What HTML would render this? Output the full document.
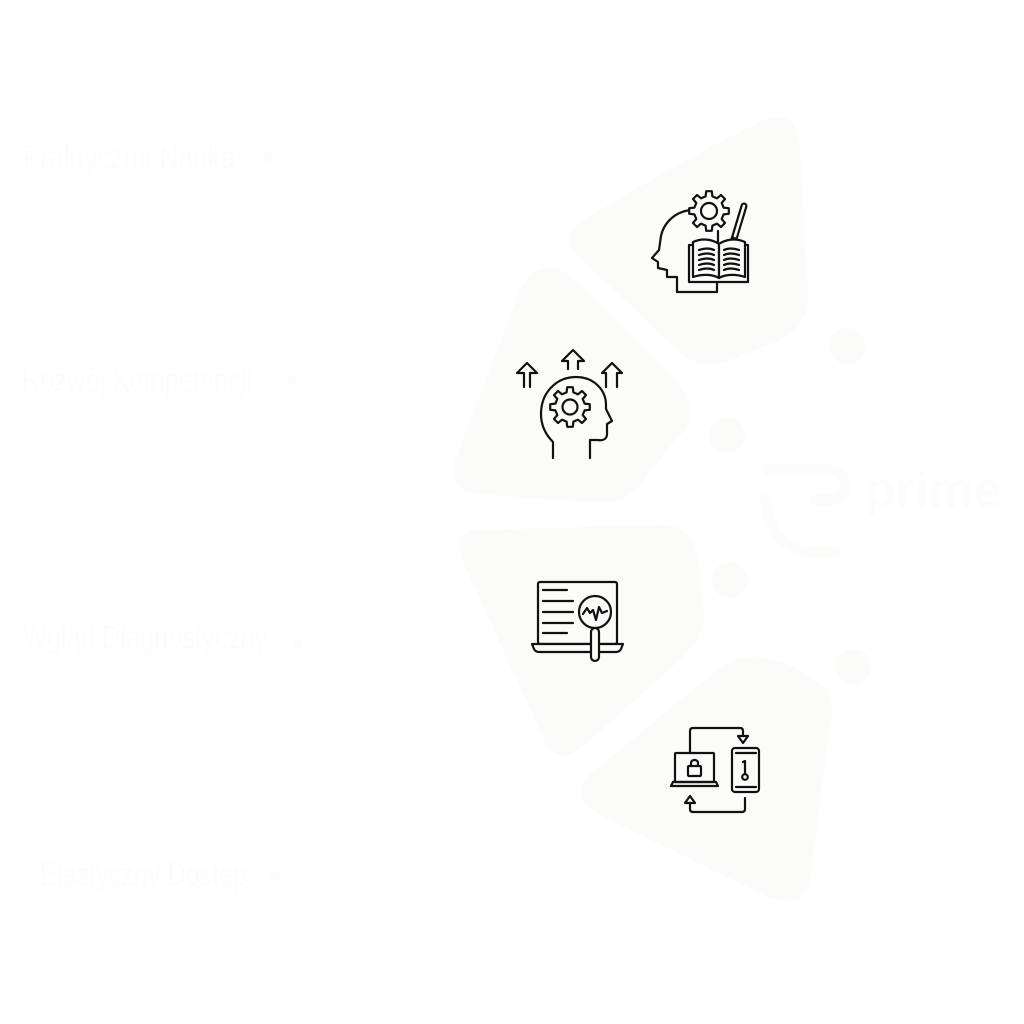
<!DOCTYPE html>
<html><head><meta charset="utf-8"><style>
html,body{margin:0;padding:0;background:#ffffff;}
svg{display:block;}
text{font-family:"Liberation Sans",sans-serif;}
</style></head><body>
<svg width="1024" height="1024" viewBox="0 0 1024 1024" xmlns="http://www.w3.org/2000/svg">
<defs>
<polygon id="gear" points="14.6,-3.4 19.8,-2.8 19.8,2.8 14.6,3.4 12.7,8.0 16.0,12.0 12.0,16.0 8.0,12.7 3.4,14.6 2.8,19.8 -2.8,19.8 -3.4,14.6 -8.0,12.7 -12.0,16.0 -16.0,12.0 -12.7,8.0 -14.6,3.4 -19.8,2.8 -19.8,-2.8 -14.6,-3.4 -12.7,-8.0 -16.0,-12.0 -12.0,-16.0 -8.0,-12.7 -3.4,-14.6 -2.8,-19.8 2.8,-19.8 3.4,-14.6 8.0,-12.7 12.0,-16.0 16.0,-12.0 12.7,-8.0"/>
</defs>
<rect width="1024" height="1024" fill="#ffffff"/>
<!-- background blobs -->
<g fill="#fbfbf9">
<path d="M580,222 C650,180 720,140 765,120 C790,110 798,125 800,150 L808,290 C810,315 800,330 780,340 L730,360 C705,370 690,362 675,348 L580,258 C565,245 565,232 580,222 Z"/>
<path d="M520,290 C535,262 555,262 575,280 L675,380 C695,400 695,425 675,440 L640,485 C625,503 605,505 585,502 L480,494 C455,492 450,478 456,458 Z"/>
<path d="M478,530 L660,525 C685,524 695,540 698,560 L704,610 C706,630 695,645 680,660 L585,745 C565,762 550,758 542,735 L462,560 C455,540 460,531 478,530 Z"/>
<path d="M595,770 C640,735 690,690 725,665 C745,652 770,655 795,668 L815,680 C830,690 835,705 830,725 L810,880 C806,902 790,905 770,898 L600,815 C575,802 575,785 595,770 Z"/>
</g>
<g fill="#fbfbf9">
<circle cx="847" cy="346" r="18"/>
<circle cx="727" cy="435" r="18"/>
<circle cx="730" cy="580" r="18"/>
<circle cx="853" cy="667" r="18"/>
</g>
<!-- logo -->
<g fill="none" stroke="#fcfcfb" stroke-width="11" stroke-linecap="round">
<path d="M766,498 C766,530 785,552 815,552 L836,552"/>
<path d="M768,470 L830,470 C850,470 850,500 830,500 L815,500"/>
</g>
<text x="865" y="507" font-size="50" font-weight="bold" fill="#fcfcfb">prime</text>
<text x="890" y="530" font-size="16" fill="#fdfdfc">Hao</text>

<!-- left labels -->
<g fill="#fcfcfb" font-size="32">
<text x="23" y="168" textLength="212" lengthAdjust="spacingAndGlyphs">Praktyczna Nauka</text>
<text x="22" y="391" textLength="230" lengthAdjust="spacingAndGlyphs">Rozwój Kompetencji</text>
<text x="23" y="648" textLength="244" lengthAdjust="spacingAndGlyphs">Wgląd Diagnostyczny</text>
<text x="40" y="885" textLength="207" lengthAdjust="spacingAndGlyphs">Elastyczny Dostęp</text>
</g>
<g fill="#fcfcfb">
<circle cx="268" cy="157" r="5"/>
<circle cx="292" cy="380" r="5"/>
<circle cx="298" cy="644" r="5"/>
<circle cx="275" cy="876" r="5"/>
</g>

<!-- ICON 1: head with gear & book -->
<g fill="none" stroke="#111" stroke-width="2.2" stroke-linejoin="round" stroke-linecap="round">
<path d="M692,210 C676,211 664,222 661,236 L659,250 L652,258 L658,262 L658,268 L667,270 L667,277 L677,277 L677,292 L717,292 L717,282"/>
<line x1="718" y1="231" x2="718" y2="242"/>
</g>
<g transform="translate(709,211)">
<use href="#gear" fill="#fbfbf9" stroke="#111" stroke-width="2.2" stroke-linejoin="round"/>
<circle r="8" fill="none" stroke="#111" stroke-width="2.2"/>
</g>
<!-- pen -->
<line x1="744" y1="206" x2="734" y2="239" stroke="#111" stroke-width="7" stroke-linecap="round"/>
<line x1="744" y1="206" x2="735" y2="236" stroke="#fbfbf9" stroke-width="2.6" stroke-linecap="round"/>
<!-- book -->
<g fill="#fbfbf9" stroke="#111" stroke-width="2.2" stroke-linejoin="round" stroke-linecap="round">
<path d="M689,245 L689,282 L748,282 L748,245 Z"/>
<path d="M693,242 C702,238 712,239 719,244 L719,278 C712,274 702,274 693,277 Z"/>
<path d="M745,242 C736,238 726,239 719,244 L719,278 C726,274 736,274 745,277 Z"/>
<path d="M699,250 C705,248 710,248 714,250 M699,255 C705,253 710,253 714,255 M699,260 C705,258 710,258 714,260 M699,265 C705,263 710,263 714,265 M699,270 C705,268 710,268 714,270" fill="none"/>
<path d="M724,250 C728,248 733,248 739,250 M724,255 C728,253 733,253 739,255 M724,260 C728,258 733,258 739,260 M724,265 C728,263 733,263 739,265 M724,270 C728,268 733,268 739,270" fill="none"/>
</g>

<!-- ICON 2: head with gear and arrows -->
<g fill="none" stroke="#111" stroke-width="2.2" stroke-linejoin="round" stroke-linecap="round">
<path d="M524,387 L524,373 L517,373 L527,363 L537,373 L530,373 L530,387"/>
<path d="M568,369 L568,361 L562,361 L573,350 L584,361 L578,361 L578,369"/>
<path d="M606,387 L606,373 L602,373 L612,363 L622,373 L617,373 L617,387"/>
<path d="M553,458 L553,442 C546,435 541,426 541,414 C541,393 556,377 576,377 C594,377 606,390 606,405 L606,409 L612,421 L607,424 L607,434 C607,439 603,441 598,440 L590,440 L590,458"/>
</g>
<g transform="translate(570,407)">
<use href="#gear" fill="none" stroke="#111" stroke-width="2.2" stroke-linejoin="round"/>
<circle r="7.5" fill="none" stroke="#111" stroke-width="2.2"/>
</g>

<!-- ICON 3: laptop with magnifier -->
<g fill="none" stroke="#111" stroke-width="2.2" stroke-linejoin="round" stroke-linecap="round">
<rect x="538" y="582" width="79" height="62" rx="2"/>
<path d="M532,644 L623,644 L621,649 C620,651 618,652 616,652 L539,652 C537,652 535,651 534,649 Z" fill="#fbfbf9"/>
<line x1="543" y1="590" x2="567" y2="590"/>
<line x1="543" y1="601" x2="573" y2="601"/>
<line x1="543" y1="612" x2="573" y2="612"/>
<line x1="543" y1="623" x2="573" y2="623"/>
<line x1="543" y1="633" x2="567" y2="633"/>
<circle cx="595" cy="612" r="16" fill="#fbfbf9"/>
<rect x="591" y="628" width="8" height="33" rx="4" fill="#fbfbf9"/>
<polyline points="583,614 587,608 590,613 593,610 596,620 599,607 602,613 607,611"/>
</g>

<!-- ICON 4: laptop/phone sync -->
<g fill="none" stroke="#111" stroke-width="2.2" stroke-linejoin="round" stroke-linecap="round">
<rect x="675" y="753" width="39" height="29" rx="1"/>
<path d="M671,786 L673,782 L716,782 L718,786 Z"/>
<rect x="688" y="766" width="13" height="10" rx="1"/>
<path d="M691,766 L691,763 C691,759 698,759 698,763 L698,766"/>
<rect x="732" y="748" width="27" height="44" rx="3"/>
<line x1="736" y1="753" x2="756" y2="753"/>
<line x1="736" y1="787" x2="756" y2="787"/>
<path d="M743,762 L745,761 L745,774"/>
<circle cx="745" cy="777" r="2.8"/>
<path d="M690,753 L690,731 C690,729 691,728 693,728 L740,728 C742,728 743,729 743,731 L743,736"/>
<path d="M738,736 L748,736 L743,743 Z"/>
<path d="M745,798 L745,809 C745,811 744,812 742,812 L693,812 C691,812 690,811 690,809 L690,803"/>
<path d="M685,803 L695,803 L690,796 Z"/>
</g>
</svg>
</body></html>
